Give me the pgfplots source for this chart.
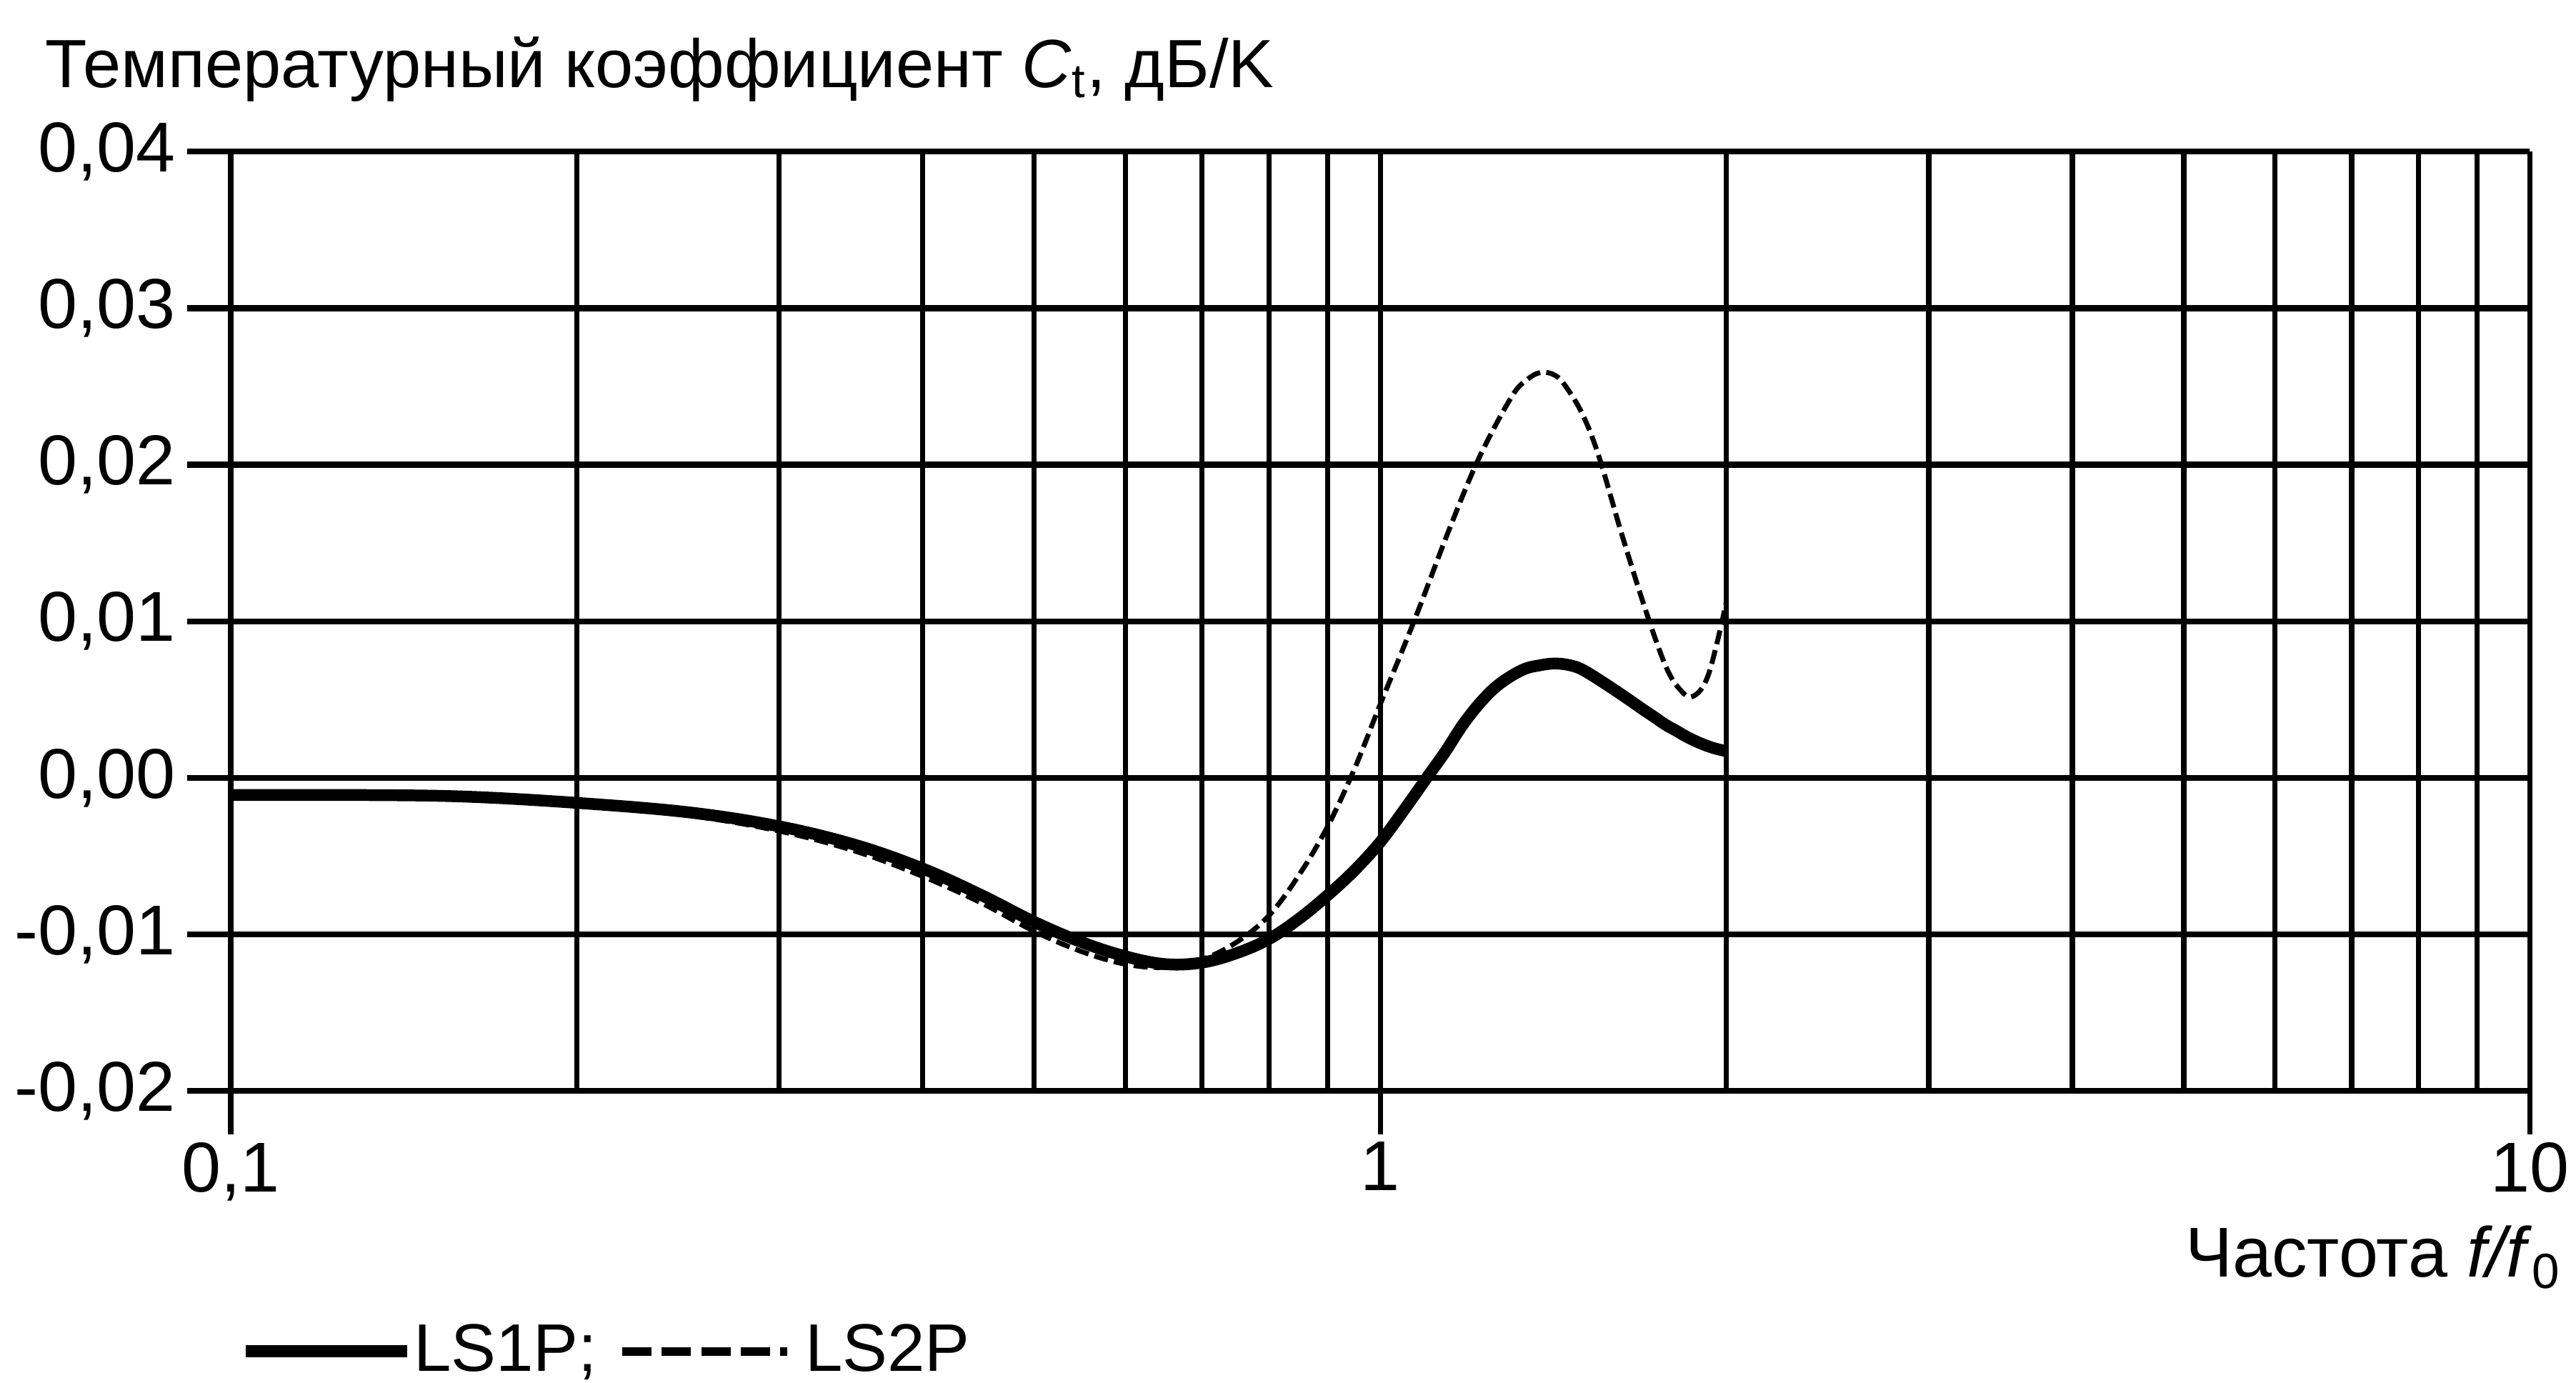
\documentclass[border=0pt]{standalone}
\usepackage{fontspec}
\setmainfont{Liberation Sans}
\usepackage{pgfplots}
\usepackage{pgfplotstable}
\pgfplotsset{compat=1.18}

% LS1P, solid
\pgfplotstableread{
f     ct
0.10  -0.0011
0.13  -0.0011
0.16  -0.0012
0.20  -0.0016
0.25  -0.0022
0.30  -0.0031
0.35  -0.0043
0.40  -0.0058
0.45  -0.0075
0.50  -0.0092
0.55  -0.0105
0.60  -0.0114
0.65  -0.0119
0.70  -0.0118
0.75  -0.0112
0.80  -0.0103
0.85  -0.0090
0.90  -0.0075
0.95  -0.0059
1.00  -0.0041
1.05  -0.0020
1.10   0.0001
1.14   0.0017
1.18   0.0034
1.225  0.0049
1.27   0.0060
1.33   0.0069
1.38   0.0072
1.42   0.0073
1.46   0.0072
1.50   0.0069
1.57   0.0060
1.645  0.0050
1.69   0.0044
1.73   0.0039
1.77   0.0034
1.81   0.0030
1.85   0.0026
1.90   0.0022
1.95   0.0019
2.00   0.0017
}\lsone

% LS2P, dashed
\pgfplotstableread{
f     ct
0.10  -0.0011
0.13  -0.0011
0.16  -0.0013
0.20  -0.0017
0.25  -0.0024
0.30  -0.0034
0.35  -0.0047
0.40  -0.0063
0.45  -0.0080
0.50  -0.0098
0.55  -0.0111
0.60  -0.0119
0.65  -0.0121
0.70  -0.0116
0.75  -0.0105
0.80  -0.0088
0.85  -0.0062
0.90  -0.0031
0.95   0.0006
1.00   0.0047
1.07   0.0100
1.15   0.0160
1.22   0.0205
1.30   0.0243
1.34   0.0254
1.38   0.0259
1.42   0.0257
1.45   0.0250
1.50   0.0232
1.55   0.0205
1.62   0.0157
1.70   0.0108
1.77   0.0072
1.82   0.0057
1.87   0.0052
1.93   0.0066
2.00   0.0112
}\lstwo

\begin{document}
\begin{tikzpicture}
\begin{axis}[
    scale only axis,
    width=488.3pt, height=199.5pt,
    xmode=log,
    xmin=0.1, xmax=10,
    ymin=-0.02, ymax=0.04,
    xtick={0.1,1,10},
    xticklabels={{0,1},{1},{10}},
    minor xtick={0.2,0.3,0.4,0.5,0.6,0.7,0.8,0.9,1,2,3,4,5,6,7,8,9},
    ytick={-0.02,-0.01,0,0.01,0.02,0.03,0.04},
    yticklabels={{-0,02},{-0,01},{0,00},{0,01},{0,02},{0,03},{0,04}},
    scaled y ticks=false,
    ymajorgrids, xminorgrids,
    major grid style={line width=1.25pt, black},
    minor grid style={line width=1.1pt, black},
    tick pos=left,
    tick align=outside,
    major tick length=9.2pt,
    minor tick length=0pt,
    xtick style={line width=1.1pt, black},
    ytick style={line width=1.25pt, black},
    separate axis lines,
    x axis line style={line width=1.25pt},
    y axis line style={line width=1.1pt},
    every tick label/.append style={font=\fontsize{15}{18}\selectfont},
    xticklabel style={inner sep=1.5pt},
    yticklabel style={inner sep=2.3pt},
    ylabel={Температурный коэффициент \textit{C}\textsubscript{t}, дБ/K},
    ylabel style={rotate=-90, at={(rel axis cs:0,1)}, anchor=base west,
        xshift=-39.55pt, yshift=13.65pt, inner sep=0pt,
        font=\fontsize{14.5}{17}\selectfont},
    xlabel={Частота \textit{f/f}\textsubscript{0}},
    xlabel style={at={(rel axis cs:1,0)}, anchor=base east,
        xshift=7pt, yshift=-39.55pt, inner sep=0pt,
        font=\fontsize{15}{18}\selectfont},
    legend columns=-1,
    legend style={
        at={(axis description cs:0,0)}, anchor=north west,
        xshift=1.75pt, yshift=-49.4pt,
        draw=none, fill=none, inner sep=0pt,
        font=\fontsize{14.3}{17}\selectfont,
        nodes={inner sep=0pt},
        /tikz/every odd column/.append style={column sep=0pt},
        /tikz/every even column/.append style={column sep=4.5pt},
    },
    legend cell align=left,
]
\addplot[black, line width=2.5pt, smooth, tension=0.6,
    legend image code/.code={\draw[black, line width=2.6pt] (0pt,0pt) -- (34.3pt,0pt);}]
    table[x=f, y=ct] {\lsone};
\addlegendentry{LS1P;}
\addplot[black, line width=1.05pt, dash pattern=on 3pt off 1.3pt, smooth, tension=0.6,
    legend image code/.code={\draw[black, line width=1.7pt, dash pattern=on 6.2pt off 2.2pt] (0pt,0pt) -- (35pt,0pt);}]
    table[x=f, y=ct] {\lstwo};
\addlegendentry{\hspace{3pt}LS2P}
\coordinate (bl) at (rel axis cs:0,0);
\coordinate (tr) at (rel axis cs:1,1);
\end{axis}
\pgfresetboundingbox
\path[use as bounding box] ([shift={(-49pt,-62pt)}]bl) rectangle ([shift={(9.8pt,32.2pt)}]tr);
\end{tikzpicture}
\end{document}
